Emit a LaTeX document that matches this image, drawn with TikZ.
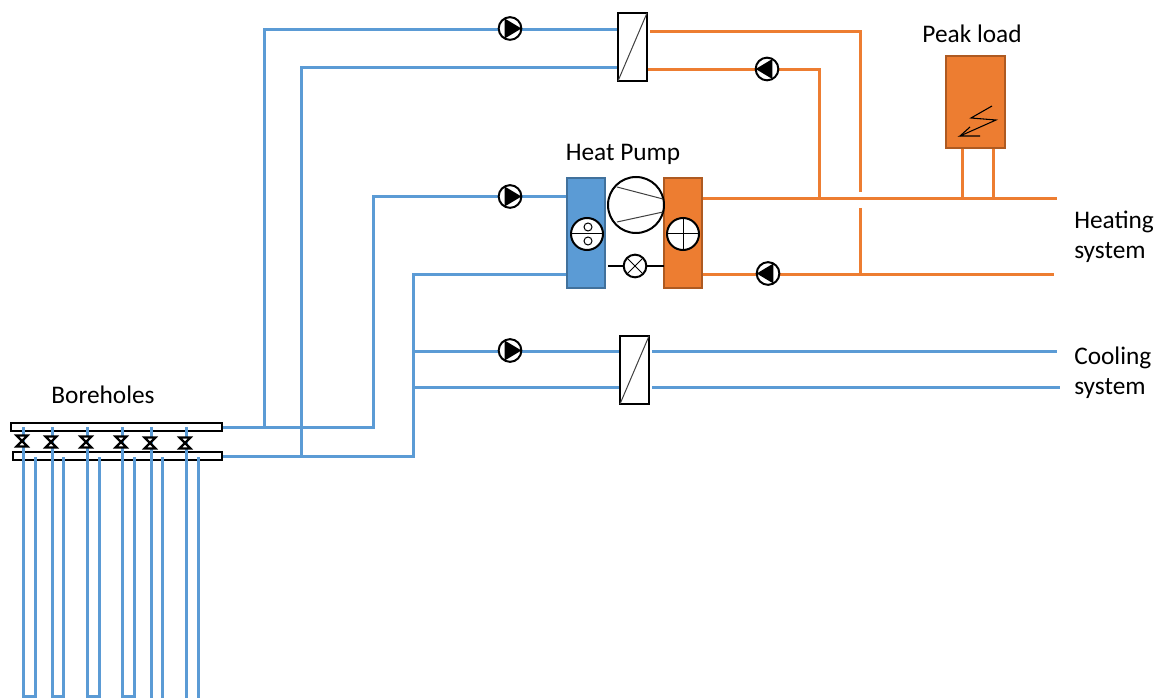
\documentclass[tikz,border=0pt]{standalone}
\usepackage{fontspec}
\setmainfont{Carlito}
\usetikzlibrary{backgrounds}
\definecolor{pipeblue}{HTML}{5B9BD5}
\definecolor{pipeorange}{HTML}{ED7D31}
\definecolor{edgeblue}{HTML}{41719C}
\definecolor{edgeorange}{HTML}{AE5A21}
\tikzset{
  bluepipe/.style={pipeblue,line width=2.25pt},
  orangepipe/.style={pipeorange,line width=2.25pt},
  symbol/.style={draw=black,line width=1.5pt,inner sep=0pt,outer sep=0pt},
  exchanger/.style={symbol,fill=white,minimum width=21.75pt,minimum height=51pt},
  manifold/.style={symbol,fill=white,minimum height=6pt},
  disc/.style={symbol,circle,fill=white},
  pumpright/.style={disc,minimum size=17pt,path picture={
    \fill[black] (path picture bounding box.center) ++(-4pt,7.5pt) -- ++(12.5pt,-7.5pt) -- ++(-12.5pt,-7.5pt) -- cycle;}},
  pumpleft/.style={disc,minimum size=17pt,path picture={
    \fill[black] (path picture bounding box.center) ++(4pt,7.5pt) -- ++(-12.5pt,-7.5pt) -- ++(12.5pt,-7.5pt) -- cycle;}},
  unit/.style={inner sep=0pt,outer sep=0pt,line width=1.5pt,minimum width=28.5pt},
  caption/.style={font=\fontsize{19}{22.5}\selectfont,inner sep=0pt},
  thinline/.style={black!75,line width=0.75pt}
}
\begin{document}
\begin{tikzpicture}[x=0.75pt,y=-0.75pt]
        \useasboundingbox (0,0) rectangle (1166,698);

        % Heat pump
        \node[unit,draw=edgeblue,fill=pipeblue,minimum height=82.5pt] (evaporator) at (586,233) {};
        \node[unit,draw=edgeorange,fill=pipeorange,minimum height=82.5pt] (condenser) at (683,233) {};
        \node[disc,minimum size=42pt] (compressor) at (636,205) {};
        \node[disc,minimum size=24pt] (evapdisc) at (587,234) {};
        \node[disc,minimum size=24pt] (conddisc) at (683,234) {};
        \node[disc,minimum size=17pt] (expansion) at (635,266) {};
        \coordinate (evapedge) at (608,266);
        \coordinate (condedge) at (664,266);
        \draw[line width=1.25pt] (evapedge) -- (expansion);
        \draw[line width=1.25pt] (expansion) -- (condedge);
        \draw[thinline] (617,187) -- (663,199);
        \draw[thinline] (617,222) -- (663,212);
        \draw[line width=0.75pt] (evapdisc.west) -- (evapdisc.east);
        \draw[line width=0.75pt,fill=white] (588,227) circle (3pt);
        \draw[line width=0.75pt,fill=white] (588,241) circle (3pt);
        \draw[line width=0.75pt] (conddisc.west) -- (conddisc.east);
        \draw[line width=0.75pt] (conddisc.north) -- (conddisc.south);
        \draw[line width=0.75pt] (expansion.north west) -- (expansion.south east);
        \draw[line width=0.75pt] (expansion.north east) -- (expansion.south west);

        % Exchangers
        \node[exchanger] (hxfree) at (632.5,47) {};
        \node[exchanger] (hxcool) at (634.5,370) {};
        \draw[thinline] (hxfree.south west) -- (hxfree.north east);
        \draw[thinline] (hxcool.south west) -- (hxcool.north east);

        % Peak load
        \node[unit,draw=edgeorange,fill=pipeorange,minimum width=44pt,minimum height=69pt] (peak) at (975.5,102) {};
        \draw[black,line width=0.8pt] (992,106) -- (971,118) -- (996,120) -- (960,136) -- (980,136);
        \draw[black,line width=0.8pt] (960,136) -- (970,127);

        % Pumps
        \node[pumpright] (pumpfree) at (510,28.5) {};
        \node[pumpleft] (pumpreturn) at (767,69) {};
        \node[pumpright] (pumphp) at (510,196.5) {};
        \node[pumpleft] (pumpheat) at (768,273.5) {};
        \node[pumpright] (pumpcool) at (510,350.5) {};

        % Boreholes
        \node[manifold,minimum width=158pt] (boretop) at (116.5,427) {};
        \node[manifold,minimum width=156.5pt] (borelow) at (117.5,456) {};
        \foreach \a/\b in {23/35,52/63,87/99,122/134}
          \draw[bluepipe] (\a,427) -- (\a,696) -- (\b,696) -- (\b,457);
        \foreach \a/\b in {151/162,186/198} {
          \draw[bluepipe] (\a,427) -- (\a,698);
          \draw[bluepipe] (\b,457) -- (\b,698);
        }
        \foreach \x/\y in {22/441,51/442,86/442,121/442,150/443,185/443}
          \draw[black,line width=1.7pt,fill=white] (\x-5.5,\y-5.5) -- (\x+5.5,\y-5.5) -- (\x-5.5,\y+5.5) -- (\x+5.5,\y+5.5) -- cycle;

        % Junctions and free ends
        \coordinate (tapfree) at (264,427);
        \coordinate (tapback) at (301,456);
        \coordinate (freein) at (618,29.5);
        \coordinate (freeback) at (618,67.5);
        \coordinate (hpin) at (567,196.5);
        \coordinate (hpback) at (567,274.5);
        \coordinate (corner) at (413,456);
        \coordinate (coolin) at (620,351.5);
        \coordinate (coolback) at (620,387.5);
        \coordinate (coolsup) at (652,351.5);
        \coordinate (coolret) at (652,387.5);
        \coordinate (coolend) at (1057,351.5);
        \coordinate (coolendb) at (1060,387.5);
        \coordinate (freehot) at (650,31.5);
        \coordinate (freecold) at (648,69.5);
        \coordinate (hotout) at (702,198.5);
        \coordinate (hotend) at (1057,198.5);
        \coordinate (coldout) at (702,274.5);
        \coordinate (coldend) at (1054,274.5);
        \coordinate (gapup) at (860,192);
        \coordinate (gapdown) at (860,208);
        \coordinate (mainback) at (860,274.5);
        \coordinate (mainfree) at (819,198.5);
        \coordinate (peakleft) at (962,198.5);
        \coordinate (peakright) at (993,198.5);

        % Pipes
        \begin{scope}[on background layer]
          \draw[bluepipe] (boretop.east) -| (373,196.5) -- (hpin);
          \draw[bluepipe] (tapfree) |- (freein);
          \draw[bluepipe] (tapback) |- (freeback);
          \draw[bluepipe] (borelow.east) -- (corner) |- (hpback);
          \draw[bluepipe] (corner |- coolin) -- (coolin);
          \draw[bluepipe] (corner |- coolback) -- (coolback);
          \draw[bluepipe] (coolsup) -- (coolend);
          \draw[bluepipe] (coolret) -- (coolendb);
          \draw[orangepipe] (freehot) -| (gapup);
          \draw[orangepipe] (gapdown) -- (mainback);
          \draw[orangepipe] (freecold) -| (mainfree);
          \draw[orangepipe] (hotout) -- (hotend);
          \draw[orangepipe] (coldout) -- (coldend);
          \draw[orangepipe] (peak.south -| peakleft) -- (peakleft);
          \draw[orangepipe] (peak.south -| peakright) -- (peakright);
        \end{scope}

        % Labels
        \node[caption] (peaklabel) at (972,34) {Peak load};
        \node[caption] (hplabel) at (623,154) {Heat Pump};
        \node[caption] (borelabel) at (103,395) {Boreholes};
        \node[caption,anchor=west,align=left] (heatlabel) at (1074,237) {Heating\\system};
        \node[caption,anchor=west,align=left] (coollabel) at (1074,373) {Cooling\\system};
      \end{tikzpicture}
\end{document}
